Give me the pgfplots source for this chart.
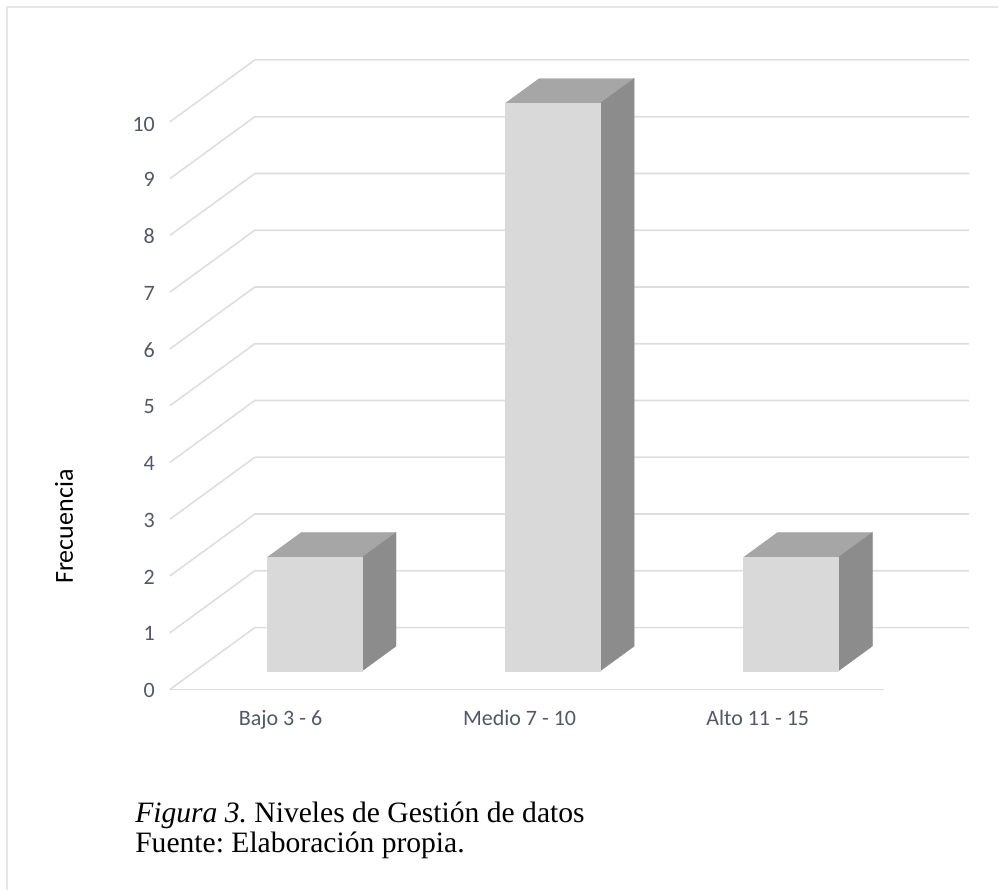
\documentclass[border=0pt]{standalone}
\usepackage{pgfplots}
\pgfplotsset{compat=1.18}
\usepackage{fontspec}
\setmainfont{Liberation Serif}
\newfontfamily\carl{Carlito}
\definecolor{gridc}{RGB}{222,222,222}
\definecolor{frontc}{RGB}{217,217,217}
\definecolor{topc}{RGB}{166,166,166}
\definecolor{sidec}{RGB}{140,140,140}
\definecolor{labc}{RGB}{80,88,105}
\definecolor{framec}{RGB}{230,230,230}
\begin{document}
\frenchspacing
\begin{tikzpicture}
\begin{axis}[
  x={(119.15pt,0pt)}, y={(42.5pt,31pt)}, z={(0pt,28.4pt)},
  xmin=-0.5, xmax=2.5, ymin=0, ymax=1, zmin=0, zmax=10,
  axis line style={draw=none},
  xtick={0,1,2},
  xticklabels={Bajo 3 - 6, Medio 7 - 10, Alto 11 - 15},
  ytick=\empty,
  ztick={0,1,2,3,4,5,6,7,8,9,10},
  major tick length=0pt,
  clip=false,
  no marks,
  tick label style={font=\carl\fontsize{11}{13}\selectfont, text=labc},
  /pgf/number format/assume math mode=true,
  xticklabel style={yshift=-7pt},
  zticklabel style={xshift=-4pt, yshift=1.5pt},
]
\coordinate (O) at (axis cs:-0.5,0,0);
% gridlines on left wall and back wall
\pgfplotsinvokeforeach{0,...,10}{
  \draw[gridc, line width=0.8pt] (axis cs:-0.5,0,#1) -- (axis cs:-0.5,1,#1) -- (axis cs:2.5,1,#1);
}
\draw[gridc, line width=0.8pt] (axis cs:-0.5,0,0) -- (axis cs:2.5,0,0);
% bar 1: Bajo 3 - 6, value 2
\addplot3[draw=topc, line width=0.2pt, fill=topc] coordinates {(-0.2,0.3,2) (0.2,0.3,2) (0.2,0.7,2) (-0.2,0.7,2)};
\addplot3[draw=sidec, line width=0.2pt, fill=sidec] coordinates {(0.2,0.3,0) (0.2,0.7,0) (0.2,0.7,2) (0.2,0.3,2)};
\addplot3[draw=frontc, line width=0.2pt, fill=frontc] coordinates {(-0.2,0.3,0) (0.2,0.3,0) (0.2,0.3,2) (-0.2,0.3,2)};
% bar 2: Medio 7 - 10, value 10
\addplot3[draw=topc, line width=0.2pt, fill=topc] coordinates {(0.8,0.3,10) (1.2,0.3,10) (1.2,0.7,10) (0.8,0.7,10)};
\addplot3[draw=sidec, line width=0.2pt, fill=sidec] coordinates {(1.2,0.3,0) (1.2,0.7,0) (1.2,0.7,10) (1.2,0.3,10)};
\addplot3[draw=frontc, line width=0.2pt, fill=frontc] coordinates {(0.8,0.3,0) (1.2,0.3,0) (1.2,0.3,10) (0.8,0.3,10)};
% bar 3: Alto 11 - 15, value 2
\addplot3[draw=topc, line width=0.2pt, fill=topc] coordinates {(1.8,0.3,2) (2.2,0.3,2) (2.2,0.7,2) (1.8,0.7,2)};
\addplot3[draw=sidec, line width=0.2pt, fill=sidec] coordinates {(2.2,0.3,0) (2.2,0.7,0) (2.2,0.7,2) (2.2,0.3,2)};
\addplot3[draw=frontc, line width=0.2pt, fill=frontc] coordinates {(1.8,0.3,0) (2.2,0.3,0) (2.2,0.3,2) (1.8,0.3,2)};
\end{axis}
\node[rotate=90, font=\carl\fontsize{13}{15}\selectfont, text=black] at ([shift={(-53pt,81.5pt)}]O) {Frecuencia};
\node[anchor=base west, inner sep=0pt, font=\fontsize{14.8}{15}\selectfont] at ([shift={(-17.5pt,-66.5pt)}]O) {\textit{Figura 3.} Niveles de Gestión de datos};
\node[anchor=base west, inner sep=0pt, font=\fontsize{14.8}{15}\selectfont] at ([shift={(-17.5pt,-81.5pt)}]O) {Fuente: Elaboración propia.};
\draw[framec, line width=0.7pt] ([shift={(-81.5pt,-100.5pt)}]O) -- ([shift={(-81.5pt,341.5pt)}]O) -- ([shift={(414.5pt,341.5pt)}]O);
\path ([shift={(-85pt,345pt)}]O) rectangle ([shift={(414.5pt,-100.5pt)}]O);
\end{tikzpicture}
\end{document}
